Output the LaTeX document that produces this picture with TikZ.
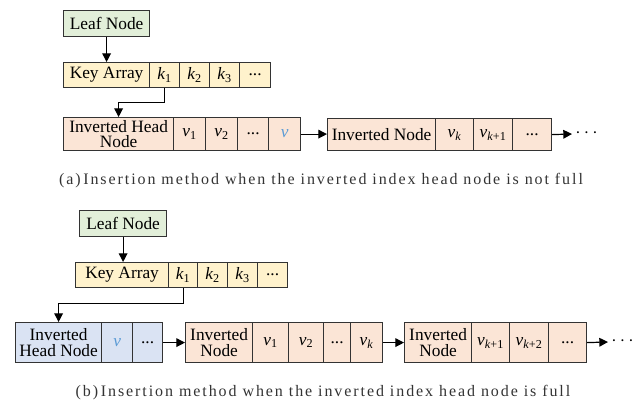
\documentclass[tikz,border=0pt]{standalone}
\usepackage{fontspec}
\setmainfont{Liberation Serif}
\newfontfamily\capfont[LetterSpace=12]{Liberation Serif}
\usetikzlibrary{arrows.meta}
\definecolor{leafc}{HTML}{E2EFD9}
\definecolor{keyc}{HTML}{FFF2CC}
\definecolor{invc}{HTML}{FBE5D6}
\definecolor{headc}{HTML}{DAE3F3}
\definecolor{vblue}{HTML}{5B9BD5}
\definecolor{linec}{HTML}{333333}
\newcommand\vv[1]{\textit{v}\textsubscript{#1}}
\newcommand\kk[1]{\textit{k}\textsubscript{#1}}
\tikzset{
  cell/.style={draw=linec, line width=0.9pt, inner sep=0pt, anchor=north west,
    font=\fontsize{13}{13}\selectfont, align=center},
  arr/.style={draw=black, line width=0.9pt, -{Triangle[length=6.5pt,width=6.5pt]}},
  capt/.style={font=\capfont\fontsize{12}{14}\selectfont, text=black!80},
  more/.style={font=\fontsize{14}{14}\selectfont, inner sep=0pt}
}
\begin{document}
\begin{tikzpicture}[x=0.75pt,y=-0.75pt]
\useasboundingbox (0,0) rectangle (640,400);
% ---------- (a) ----------
\node[cell,fill=leafc,minimum width=86*0.75pt,minimum height=26*0.75pt] (leafA) at (63,10) {Leaf Node};
\begin{scope}[every node/.append style={cell,fill=keyc,minimum height=25*0.75pt}]
\node[minimum width=86*0.75pt] (keyA) at (63,62) {Key Array};
\node[minimum width=30*0.75pt] (k1A) at (149,62) {\kk{1}};
\node[minimum width=30*0.75pt] (k2A) at (179,62) {\kk{2}};
\node[minimum width=30*0.75pt] (k3A) at (209,62) {\kk{3}};
\node[minimum width=31*0.75pt] (kdA) at (239,62) {...};
\end{scope}
\begin{scope}[every node/.append style={cell,fill=invc,minimum height=33*0.75pt}]
\node[minimum width=110*0.75pt] (headA) at (63,117) {Inverted Head\\[-1.5pt]Node};
\node[minimum width=32*0.75pt] (v1A) at (173,117) {\vv{1}};
\node[minimum width=32*0.75pt] (v2A) at (205,117) {\vv{2}};
\node[minimum width=31*0.75pt] (vdA) at (237,117) {...};
\node[minimum width=32*0.75pt,text=vblue] (vA) at (268,117) {\textit{v}};
\end{scope}
\begin{scope}[every node/.append style={cell,fill=invc,minimum height=32*0.75pt}]
\node[minimum width=108*0.75pt] (invA) at (327,118) {Inverted Node};
\node[minimum width=38*0.75pt] (vkA) at (435,118) {\vv{\textit{k}}};
\node[minimum width=39*0.75pt] (vk1A) at (473,118) {\vv{\textit{k}+1}};
\node[minimum width=39*0.75pt] (idA) at (512,118) {...};
\end{scope}
\coordinate (endA) at (572,134);
\node[more,anchor=west] (moreA) at (575,133) {$\cdots$};
\draw[arr] (leafA.south) -- (leafA.south |- keyA.north);
\draw[arr] (k1A.south) -- ++(0,14) -| (headA.north);
\draw[arr] (vA.east) -- (vA.east -| invA.west);
\draw[arr] (idA.east) -- (endA);
\node[capt] (capA) at (321,181) {(a)\,Insertion method when the inverted index head node is not full};
% ---------- (b) ----------
\node[cell,fill=leafc,minimum width=87*0.75pt,minimum height=26*0.75pt] (leafB) at (79,210) {Leaf Node};
\begin{scope}[every node/.append style={cell,fill=keyc,minimum height=25*0.75pt}]
\node[minimum width=93*0.75pt] (keyB) at (75,262) {Key Array};
\node[minimum width=29*0.75pt] (k1B) at (168,262) {\kk{1}};
\node[minimum width=30*0.75pt] (k2B) at (197,262) {\kk{2}};
\node[minimum width=30*0.75pt] (k3B) at (227,262) {\kk{3}};
\node[minimum width=30*0.75pt] (kdB) at (257,262) {...};
\end{scope}
\begin{scope}[every node/.append style={cell,fill=headc,minimum height=40*0.75pt}]
\node[minimum width=86*0.75pt] (headB) at (15,322) {Inverted\\[-1pt]Head Node};
\node[minimum width=31*0.75pt,text=vblue] (vB) at (101,322) {\textit{v}};
\node[minimum width=30*0.75pt] (hdB) at (132,322) {...};
\end{scope}
\begin{scope}[every node/.append style={cell,fill=invc,minimum height=40*0.75pt}]
\node[minimum width=67*0.75pt] (inv1B) at (185,322) {Inverted\\[-1pt]Node};
\node[minimum width=36*0.75pt] (v1B) at (252,322) {\vv{1}};
\node[minimum width=35*0.75pt] (v2B) at (288,322) {\vv{2}};
\node[minimum width=27*0.75pt] (vdB) at (323,322) {...};
\node[minimum width=32*0.75pt] (vkB) at (350,322) {\vv{\textit{k}}};
\node[minimum width=67*0.75pt] (inv2B) at (404,322) {Inverted\\[-1pt]Node};
\node[minimum width=38*0.75pt] (vk1B) at (471,322) {\vv{\textit{k}+1}};
\node[minimum width=39*0.75pt] (vk2B) at (509,322) {\vv{\textit{k}+2}};
\node[minimum width=38*0.75pt] (idB) at (548,322) {...};
\end{scope}
\coordinate (endB) at (608,342);
\node[more,anchor=west] (moreB) at (611,341) {$\cdots$};
\draw[arr] (leafB.south) -- (leafB.south |- keyB.north);
\draw[arr] (k1B.south) -- ++(0,15) -| (headB.north);
\draw[arr] (hdB.east) -- (inv1B.west);
\draw[arr] (vkB.east) -- (inv2B.west);
\draw[arr] (idB.east) -- (endB);
\node[capt] (capB) at (323,393) {(b)\,Insertion method when the inverted index head node is full};
\end{tikzpicture}
\end{document}
